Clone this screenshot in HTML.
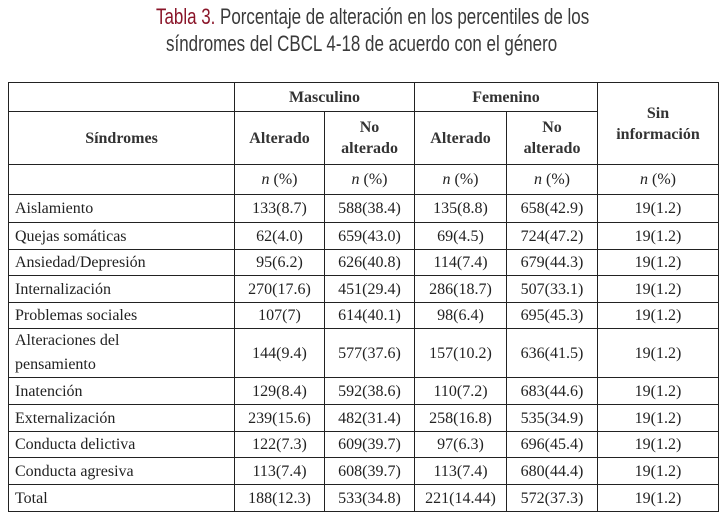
<!DOCTYPE html>
<html><head><meta charset="utf-8"><style>
body{margin:0;width:723px;height:514px;background:#fff;position:relative;overflow:hidden;font-family:"Liberation Serif",serif;color:#222}
.t{position:absolute;left:0;width:723px;text-align:center;font-family:"Liberation Sans",sans-serif;font-size:22px;color:#3a3a3a;transform:translateX(11px) scaleX(0.77);transform-origin:362px 0}
.t b{font-weight:normal;color:#8a1529}
table{position:absolute;left:8px;top:82px;border-collapse:collapse;table-layout:fixed;font-size:16px}
td{border:1px solid #222;text-align:center;padding:0;line-height:21px}
td.l{text-align:left;padding-left:6px}
.h{font-weight:bold;color:#333}
i{font-style:italic}
</style></head><body>
<div class="t" style="top:4px"><b>Tabla 3.</b> Porcentaje de alteración en los percentiles de los</div>
<div class="t" style="top:31px;transform:translateX(0px) scaleX(0.77)">síndromes del CBCL 4-18 de acuerdo con el género</div>
<table>
<colgroup><col style="width:226px"><col style="width:90px"><col style="width:90px"><col style="width:92px"><col style="width:91px"><col style="width:121px"></colgroup>
<tr style="height:29px"><td></td><td colspan="2" class="h">Masculino</td><td colspan="2" class="h">Femenino</td><td rowspan="2" class="h">Sin<br>información</td></tr>
<tr style="height:53px"><td class="h">Síndromes</td><td class="h">Alterado</td><td class="h">No<br>alterado</td><td class="h">Alterado</td><td class="h">No<br>alterado</td></tr>
<tr style="height:30px"><td></td><td><i>n</i> (%)</td><td><i>n</i> (%)</td><td><i>n</i> (%)</td><td><i>n</i> (%)</td><td><i>n</i> (%)</td></tr>
<tr style="height:28px"><td class="l">Aislamiento</td><td>133(8.7)</td><td>588(38.4)</td><td>135(8.8)</td><td>658(42.9)</td><td>19(1.2)</td></tr>
<tr style="height:27px"><td class="l">Quejas somáticas</td><td>62(4.0)</td><td>659(43.0)</td><td>69(4.5)</td><td>724(47.2)</td><td>19(1.2)</td></tr>
<tr style="height:26px"><td class="l">Ansiedad/Depresión</td><td>95(6.2)</td><td>626(40.8)</td><td>114(7.4)</td><td>679(44.3)</td><td>19(1.2)</td></tr>
<tr style="height:27px"><td class="l">Internalización</td><td>270(17.6)</td><td>451(29.4)</td><td>286(18.7)</td><td>507(33.1)</td><td>19(1.2)</td></tr>
<tr style="height:26px"><td class="l">Problemas sociales</td><td>107(7)</td><td>614(40.1)</td><td>98(6.4)</td><td>695(45.3)</td><td>19(1.2)</td></tr>
<tr style="height:49px"><td class="l" style="line-height:24px">Alteraciones del<br>pensamiento</td><td>144(9.4)</td><td>577(37.6)</td><td>157(10.2)</td><td>636(41.5)</td><td>19(1.2)</td></tr>
<tr style="height:27px"><td class="l">Inatención</td><td>129(8.4)</td><td>592(38.6)</td><td>110(7.2)</td><td>683(44.6)</td><td>19(1.2)</td></tr>
<tr style="height:27px"><td class="l">Externalización</td><td>239(15.6)</td><td>482(31.4)</td><td>258(16.8)</td><td>535(34.9)</td><td>19(1.2)</td></tr>
<tr style="height:26px"><td class="l">Conducta delictiva</td><td>122(7.3)</td><td>609(39.7)</td><td>97(6.3)</td><td>696(45.4)</td><td>19(1.2)</td></tr>
<tr style="height:27px"><td class="l">Conducta agresiva</td><td>113(7.4)</td><td>608(39.7)</td><td>113(7.4)</td><td>680(44.4)</td><td>19(1.2)</td></tr>
<tr style="height:27px"><td class="l">Total</td><td>188(12.3)</td><td>533(34.8)</td><td>221(14.44)</td><td>572(37.3)</td><td>19(1.2)</td></tr>
</table>
</body></html>
